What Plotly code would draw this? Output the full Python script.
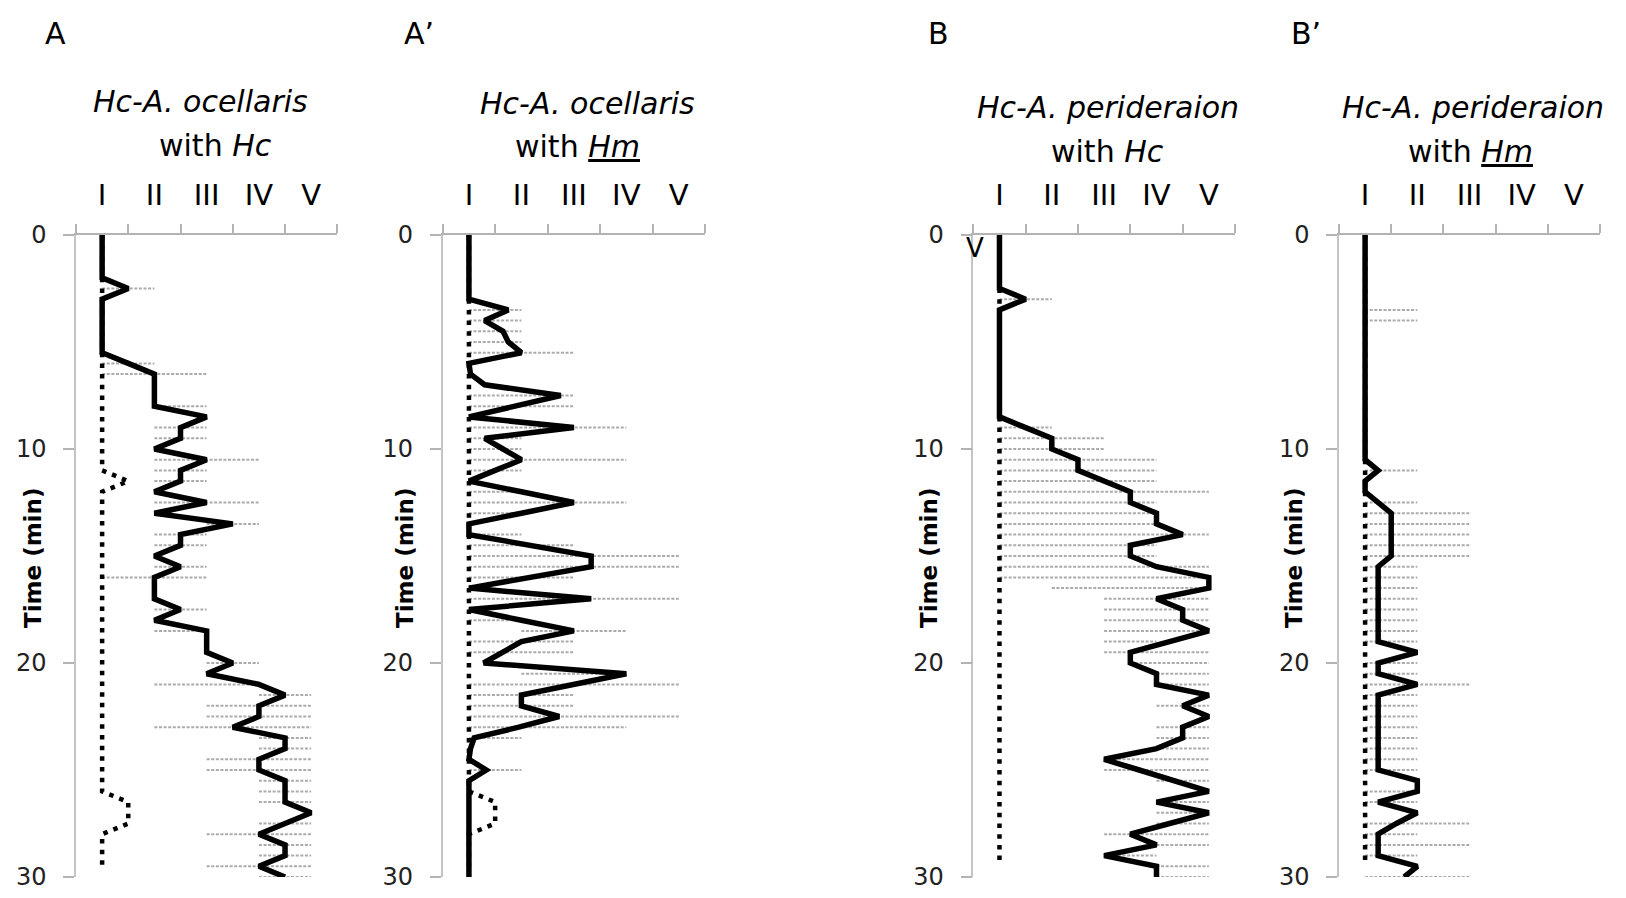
import plotly.graph_objects as go

N = None

# Sampling grid: one observation every 0.5 min from 0 to 30 min
minutes = [i * 0.5 for i in range(61)]
stages = ["I", "II", "III", "IV", "V"]

# ---- A : Hc-A. ocellaris with Hc ----
a_mean = [1, 1, 1, 1, 1, 1.5, 1, 1, 1, 1, 1, 1, 1.5, 2, 2, 2, 2, 3,
          2.5, 2.5, 2, 3, 2.5, 2.5, 2, 3, 2, 3.5, 2.5, 2.5, 2, 2.5, 2, 2, 2, 2.5,
          2, 3, 3, 3, 3.5, 3, 4, 4.5, 4, 4, 3.5, 4.5, 4.5, 4, 4, 4.5, 4.5, 4.5,
          5, 4.5, 4, 4.5, 4.5, 4, 4.5]
a_ref = [1, 1, 1, 1, 1, 1, 1, 1, 1, 1, 1, 1, 1, 1, 1, 1, 1, 1, 1, 1,
         1, 1, 1, 1.5, 1, 1, 1, 1, 1, 1, 1, 1, 1, 1, 1, 1, 1, 1, 1, 1,
         1, 1, 1, 1, 1, 1, 1, 1, 1, 1, 1, 1, 1, 1.5, 1.5, 1.5, 1, 1, 1, 1]
a_lo = [N, N, N, N, N, 1, N, N, N, N, N, N, 1, 1, N, N, 2, N,
        2, 2, N, 2, 2, 2, N, 2, N, 3, 2, 2, N, 2, 1, N, N, 2,
        N, 2, N, N, 3, N, 2, 4, 3, 3, 2, 4, 4, 3, 3, 4, 4, 4,
        N, 4, 3, 4, 4, 3, 4]
a_hi = [N, N, N, N, N, 2, N, N, N, N, N, N, 2, 3, N, N, 3, N,
        3, 3, N, 4, 3, 3, N, 4, N, 4, 3, 3, N, 3, 3, N, N, 3,
        N, 3, N, N, 4, N, 4, 5, 5, 5, 5, 5, 5, 5, 5, 5, 5, 5,
        N, 5, 5, 5, 5, 5, 5]

# ---- A' : Hc-A. ocellaris with Hm ----
ap_mean = [1, 1, 1, 1, 1, 1, 1, 1.75, 1.3, 1.65, 1.75, 2.0, 1, 1.03, 1.3, 2.75, 1.85, 1,
           3, 1.3, 1.65, 2, 1.5, 1, 2, 3, 2, 1, 1, 2.2, 3.33, 3.33, 2.17, 1, 3.33, 1,
           2, 3, 2.0, 1.65, 1.28, 4, 3, 2, 2, 2.72, 1.95, 1.1, 1.03, 1, 1.33, 1, 1, 1,
           1, 1, 1, 1, 1, 1, 1]
ap_ref = [1, 1, 1, 1, 1, 1, 1, 1, 1, 1, 1, 1, 1, 1, 1, 1, 1, 1, 1, 1,
          1, 1, 1, 1, 1, 1, 1, 1, 1, 1, 1, 1, 1, 1, 1, 1, 1, 1, 1, 1,
          1, 1, 1, 1, 1, 1, 1, 1, 1, 1, 1, 1, 1, 1.5, 1.5, 1.5, 1, 1, 1, 1]
ap_lo = [N, N, N, N, N, N, N, 1, 1, 1, 1, 1, N, N, N, 1, 1, N,
         1, 1, 1, 1, 1, N, 1, 1, 1, N, 1, 1, 1, 1, 1, N, 1, N,
         1, 2, 1, 1, N, 2, 1, 1, 1, 1, 1, 1, N, N, 1, N, N, N,
         N, N, N, N, N, N, N]
ap_hi = [N, N, N, N, N, N, N, 2, 2, 2, 2, 3, N, N, N, 3, 3, N,
         4, 2, 2, 4, 2, N, 2, 4, 2, N, 2, 3, 5, 5, 3, N, 5, N,
         2, 4, 3, 3, N, 4, 5, 3, 3, 5, 4, 2, N, N, 2, N, N, N,
         N, N, N, N, N, N, N]

# ---- B : Hc-A. perideraion with Hc ----
b_mean = [1, 1, 1, 1, 1, 1, 1.5, 1, 1, 1, 1, 1, 1, 1, 1, 1, 1, 1,
          1.5, 2, 2, 2.5, 2.5, 3, 3.5, 3.5, 4, 4, 4.5, 3.5, 3.5, 4, 5, 5, 4, 4.5,
          4.5, 5, 4.25, 3.5, 3.5, 4, 4, 5, 4.5, 5, 4.5, 4.5, 4, 3, 3.67, 4.33, 5, 4,
          5, 4.25, 3.5, 4, 3, 4, 4]
b_ref = [1] * 60
b_lo = [N, N, N, N, N, N, 1, N, N, N, N, N, N, N, N, N, N, N,
        1, 1, 1, 1, 1, 1, 1, 1, 1, 1, 1, 1, 1, 1, 1, 2, 3, 3,
        3, 3, 3, 3, 3.5, 4, 4, N, 4, N, 4, 4, 4, 3, 3, 4, N, 4,
        4, 4, 3, 4, 3, 4, 4]
b_hi = [N, N, N, N, N, N, 2, N, N, N, N, N, N, N, N, N, N, N,
        2, 3, 3, 4, 4, 4, 5, 4, 4, 4, 5, 4, 4, 5, 5, 5, 5, 5,
        5, 5, 4, 5, 5, 5, 5, N, 5, N, 5, 5, 5, 5, 5, 5, N, 5,
        5, 5, 5, 5, 4, 5, 5]

# ---- B' : Hc-A. perideraion with Hm ----
bp_mean = [1, 1, 1, 1, 1, 1, 1, 1, 1, 1, 1, 1, 1, 1, 1, 1, 1, 1,
           1, 1, 1, 1, 1.25, 1, 1, 1.25, 1.5, 1.5, 1.5, 1.5, 1.5, 1.25, 1.25, 1.25, 1.25, 1.25,
           1.25, 1.25, 1.25, 2, 1.25, 1.25, 2, 1.25, 1.25, 1.25, 1.25, 1.25, 1.25, 1.25, 1.25, 2, 2, 1.25,
           2, 1.6, 1.25, 1.25, 1.25, 2, 1.75]
bp_ref = [1] * 60
bp_lo = [N, N, N, N, N, N, N, 1, 1, N, N, N, N, N, N, N, N, N,
         N, N, N, N, 1, N, N, 1, 1, 1, 1, 1, 1, 1, 1, 1, 1, 1,
         1, 1, 1, N, 1, 1, 1, 1, 1, 1, 1, 1, 1, 1, 1, N, 1, 1,
         N, 1, 1, 1, 1, N, 1]
bp_hi = [N, N, N, N, N, N, N, 2, 2, N, N, N, N, N, N, N, N, N,
         N, N, N, N, 2, N, N, 2, 3, 3, 3, 3, 3, 2, 2, 2, 2, 2,
         2, 2, 2, N, 2, 2, 3, 2, 2, 2, 2, 2, 2, 2, 2, N, 2, 2,
         N, 3, 2, 3, 2, N, 3]

W, H = 1626, 898
panels = [
    dict(mean=a_mean, ref=a_ref, lo=a_lo, hi=a_hi, left=76, right=337.3,
         letter="A", lx=43,
         t1=("<i>Hc-A. ocellaris</i>", 200, 102), t2=("with <i>Hc</i>", 215, 145), ty=33),
    dict(mean=ap_mean, ref=ap_ref, lo=ap_lo, hi=ap_hi, left=442.7, right=705,
         letter="A\u2019", lx=402,
         t1=("<i>Hc-A. ocellaris</i>", 587, 104), t2=("with <i><u>Hm</u></i>", 577, 147), ty=405),
    dict(mean=b_mean, ref=b_ref, lo=b_lo, hi=b_hi, left=973.3, right=1235,
         letter="B", lx=926,
         t1=("<i>Hc-A. perideraion</i>", 1108, 108), t2=("with <i>Hc</i>", 1107, 151), ty=929),
    dict(mean=bp_mean, ref=bp_ref, lo=bp_lo, hi=bp_hi, left=1339, right=1600,
         letter="B\u2019", lx=1289,
         t1=("<i>Hc-A. perideraion</i>", 1473, 108), t2=("with <i><u>Hm</u></i>", 1470, 151), ty=1294),
]

y_top, y_bot = 235, 877
ydom = [1 - y_bot / H, 1 - y_top / H]
AX = "#b3b3b3"
TXT = "DejaVu Sans"

fig = go.Figure()
layout = dict(
    template="none",
    width=W, height=H, margin=dict(l=0, r=0, t=0, b=0, pad=0, autoexpand=False),
    paper_bgcolor="white", plot_bgcolor="white",
    showlegend=False, hovermode=False, annotations=[],
)

for k, p in enumerate(panels):
    sx = "" if k == 0 else str(k + 1)
    xa, ya = "x" + sx, "y" + sx

    # grey range bars at each sampling time
    gx, gy = [], []
    for t, lo, hi in zip(minutes, p["lo"], p["hi"]):
        if lo is None:
            continue
        gx += [lo, hi, None]
        gy += [t, t, None]
    fig.add_trace(go.Scatter(x=gx, y=gy, mode="lines", xaxis=xa, yaxis=ya,
                             line=dict(color="#ababab", width=2, dash="3px,1.6px"),
                             cliponaxis=False, hoverinfo="skip"))
    # dotted reference series
    fig.add_trace(go.Scatter(x=p["ref"], y=minutes[:len(p["ref"])], mode="lines",
                             xaxis=xa, yaxis=ya,
                             line=dict(color="black", width=4.5, dash="4.5px,6.2px"),
                             cliponaxis=False, hoverinfo="skip"))
    # mean stage
    fig.add_trace(go.Scatter(x=p["mean"], y=minutes, mode="lines", xaxis=xa, yaxis=ya,
                             line=dict(color="black", width=5.5),
                             cliponaxis=False, hoverinfo="skip"))

    layout["xaxis" + sx] = dict(
        domain=[p["left"] / W, p["right"] / W], anchor=ya, side="top", automargin=False,
        range=[0.5, 5.5], tickmode="array", tickvals=[1, 2, 3, 4, 5], ticktext=stages,
        ticks="", showline=True, linecolor=AX, linewidth=2, showgrid=False, zeroline=False,
        tickfont=dict(family=TXT, size=29, color="black"), ticklabelstandoff=16,
        minor=dict(tickmode="array", tickvals=[0.5, 1.5, 2.5, 3.5, 4.5, 5.5],
                   ticks="outside", ticklen=9, tickcolor=AX, tickwidth=1.5, showgrid=False),
        fixedrange=True,
    )
    layout["yaxis" + sx] = dict(
        domain=ydom, anchor=xa, range=[30, 0], tickmode="array", tickvals=[0, 10, 20, 30],
        automargin=False,
        ticks="outside", ticklen=11, tickcolor=AX, tickwidth=1.5,
        showline=True, linecolor="#c4c4c4", linewidth=1.5, showgrid=False, zeroline=False,
        tickfont=dict(family=TXT, size=24, color="#222222"), ticklabelstandoff=12,
        fixedrange=True,
    )

    ann = layout["annotations"]
    ann.append(dict(text=p["letter"], x=p["lx"] / W, y=1 - 34 / H, xref="paper", yref="paper",
                    xanchor="left", yanchor="middle", showarrow=False,
                    font=dict(family=TXT, size=30, color="black")))
    for txt, px, py in (p["t1"], p["t2"]):
        ann.append(dict(text=txt, x=px / W, y=1 - py / H, xref="paper", yref="paper",
                        xanchor="center", yanchor="middle", showarrow=False,
                        font=dict(family=TXT, size=30, color="black")))
    ann.append(dict(text="<b>Time (min)</b>", x=p["ty"] / W, y=1 - 558 / H,
                    xref="paper", yref="paper", textangle=-90,
                    xanchor="center", yanchor="middle", showarrow=False,
                    font=dict(family=TXT, size=23, color="black")))

# stray stage mark beside the 0 min tick of panel B
layout["annotations"].append(dict(text="V", x=975 / W, y=1 - 248 / H, xref="paper", yref="paper",
                                  xanchor="center", yanchor="middle", showarrow=False,
                                  font=dict(family=TXT, size=26, color="black")))

fig.update_layout(**layout)
fig.write_html("out.html", config={"displayModeBar": False})
